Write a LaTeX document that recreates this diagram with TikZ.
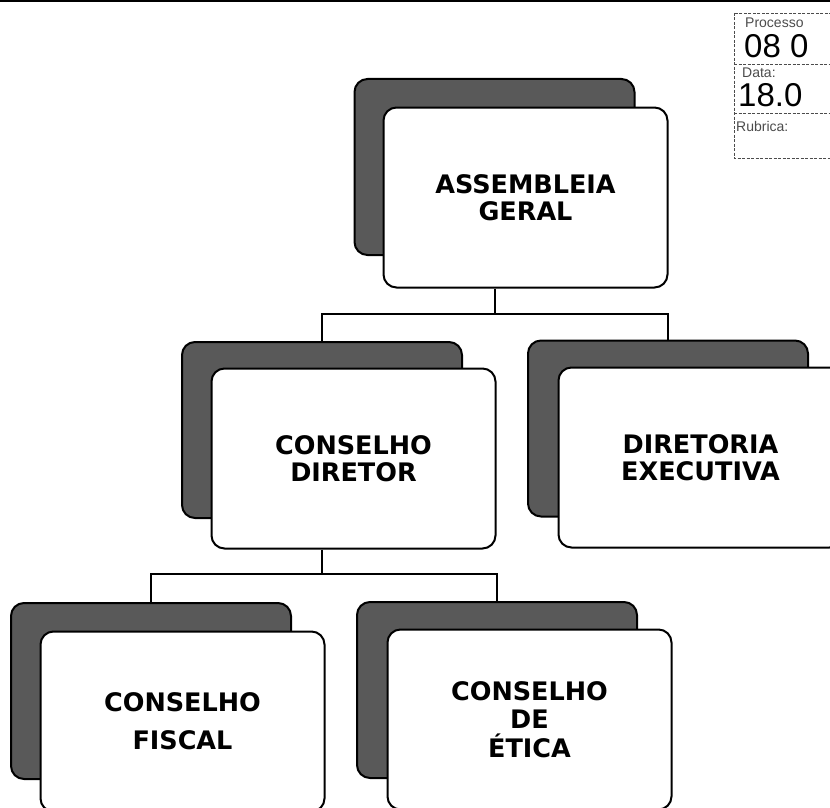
\documentclass[tikz,border=0pt]{standalone}
\usepackage{fontspec}
\setmainfont{DejaVu Sans}
\newfontfamily\stampfont{Liberation Sans}
\usetikzlibrary{calc}
\begin{document}
\begin{tikzpicture}[x=1pt,y=-1pt,
  shadowbox/.style={draw=black,line width=2pt,fill=black!65,rounded corners=13pt,
    minimum width=280pt,minimum height=176pt,inner sep=0pt},
  frontbox/.style={draw=black,line width=2pt,fill=white,rounded corners=13pt,
    minimum width=284pt,minimum height=180pt,inner sep=0pt,align=center,
    font=\fontsize{25.5}{27}\selectfont\bfseries},
  conn/.style={draw=black,line width=2pt},
  stampline/.style={draw=black!70,line width=0.8pt,dash pattern=on 3pt off 1.5pt},
  stamptxt/.style={font=\stampfont\fontsize{14}{15}\selectfont,text=black!70,inner sep=0pt,anchor=north west},
  hand/.style={font=\stampfont\fontsize{33}{33}\selectfont,text=black,inner sep=0pt,anchor=north west}
]
\clip (0,0) rectangle (830,808);
\fill[white] (0,0) rectangle (830,808);
% top border line
\coordinate (tl) at (0,1);
\coordinate (tr) at (830,1);
\draw[line width=2pt] (tl) -- (tr);

% stamp
\draw[stampline] (734,13) rectangle (845,158);
\draw[stampline] (734,64) -- (845,64);
\draw[stampline] (734,113) -- (845,113);
\node[stamptxt] (sp) at (745,18) {Processo};
\node[hand] (s1) at (744,34) {08 0};
\node[stamptxt] (sd) at (742,68) {Data:};
\node[hand] (s2) at (738,83) {18.0};
\node[stamptxt] (sr) at (736,121) {Rubrica:};

% Assembleia geral
\node[shadowbox] (Ash) at (494.5,167) {};
\node[frontbox] (A) at (525.5,197.5) {ASSEMBLEIA\\GERAL};
% Conselho diretor
\node[shadowbox] (Dsh) at (322,430) {};
\node[frontbox] (D) at (353.5,458.5) {CONSELHO\\DIRETOR};
% Diretoria executiva
\node[shadowbox] (Esh) at (668,428.5) {};
\node[frontbox] (E) at (700.5,457.5) {DIRETORIA\\EXECUTIVA};
% Conselho fiscal
\node[shadowbox] (Fsh) at (151,691) {};
\node[frontbox,font=\fontsize{25.5}{38}\selectfont\bfseries] (F) at (182.5,721.5) {CONSELHO\\FISCAL};
% Conselho de etica
\node[shadowbox] (Tsh) at (497,690) {};
\node[frontbox,font=\fontsize{25.5}{28.5}\selectfont\bfseries] (T) at (529.5,719.5) {CONSELHO\\DE\\ÉTICA};

% connectors
\coordinate (Aj) at ($(Ash.center |- A.south)+(0,25)$);
\draw[conn] (Ash.center |- A.south) -- (Aj);
\draw[conn] (Aj) -| (Dsh.north);
\draw[conn] (Aj) -| (Esh.north);
\coordinate (Dj) at (322,574);
\draw[conn] (Dsh.center |- D.south) -- (Dj);
\draw[conn] (Dj) -| (Fsh.north);
\draw[conn] (Dj) -| (Tsh.north);
\end{tikzpicture}
\end{document}
